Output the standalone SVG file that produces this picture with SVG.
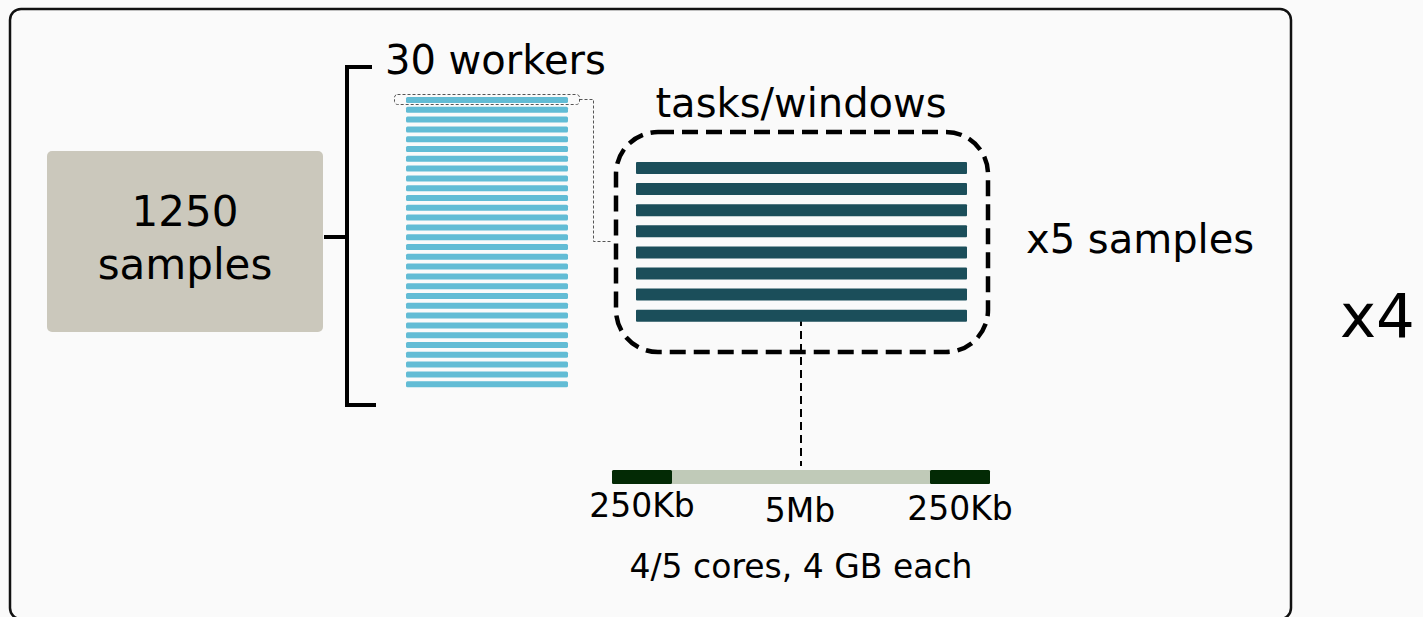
<svg xmlns="http://www.w3.org/2000/svg" width="1423" height="617" viewBox="0 0 1423 617">
<defs>
<style>
text{font-family:"DejaVu Sans","Liberation Sans",sans-serif;fill:#000}
.t40{font-size:40px}
.t33{font-size:33px}
.worker{fill:#62bcd5}
.task{fill:#1b4e5a}
.br{stroke:#000;stroke-width:4;fill:none}
.thin{stroke:#555;stroke-width:1;stroke-dasharray:3 2;fill:none}
</style>
</defs>
<rect x="0" y="0" width="1423" height="617" fill="#fafafa"/>
<g id="outer">
<rect x="10" y="9" width="1281" height="610" rx="11" fill="none" stroke="#111" stroke-width="2.5"/>
</g>
<g id="samples-node">
<rect x="47" y="151" width="276" height="181" rx="5" fill="#cbc8bc"/>
<text x="185" y="226" text-anchor="middle" style="font-size:42px">1250</text>
<text x="185" y="279" text-anchor="middle" style="font-size:42px">samples</text>
</g>
<g id="connectors">
<path class="br" d="M324 237 H347 M372 67 H347 V405 H376"/>
<rect class="thin" x="394.5" y="94.5" width="185" height="10" rx="3"/>
<path class="thin" d="M579.5 99.5 H593.5 V241.5 H612"/>
<path d="M801 318 V466" stroke="#000" stroke-width="2" stroke-dasharray="8 5" fill="none"/>
</g>
<g id="workers">
<text class="t40" x="385" y="74">30 workers</text>
<rect class="worker" x="406" y="97" width="162" height="6" rx="1.5"/>
<rect class="worker" x="406" y="106.8" width="162" height="6" rx="1.5"/>
<rect class="worker" x="406" y="116.6" width="162" height="6" rx="1.5"/>
<rect class="worker" x="406" y="126.4" width="162" height="6" rx="1.5"/>
<rect class="worker" x="406" y="136.2" width="162" height="6" rx="1.5"/>
<rect class="worker" x="406" y="146" width="162" height="6" rx="1.5"/>
<rect class="worker" x="406" y="155.8" width="162" height="6" rx="1.5"/>
<rect class="worker" x="406" y="165.6" width="162" height="6" rx="1.5"/>
<rect class="worker" x="406" y="175.4" width="162" height="6" rx="1.5"/>
<rect class="worker" x="406" y="185.2" width="162" height="6" rx="1.5"/>
<rect class="worker" x="406" y="195" width="162" height="6" rx="1.5"/>
<rect class="worker" x="406" y="204.8" width="162" height="6" rx="1.5"/>
<rect class="worker" x="406" y="214.6" width="162" height="6" rx="1.5"/>
<rect class="worker" x="406" y="224.4" width="162" height="6" rx="1.5"/>
<rect class="worker" x="406" y="234.2" width="162" height="6" rx="1.5"/>
<rect class="worker" x="406" y="244" width="162" height="6" rx="1.5"/>
<rect class="worker" x="406" y="253.8" width="162" height="6" rx="1.5"/>
<rect class="worker" x="406" y="263.6" width="162" height="6" rx="1.5"/>
<rect class="worker" x="406" y="273.4" width="162" height="6" rx="1.5"/>
<rect class="worker" x="406" y="283.2" width="162" height="6" rx="1.5"/>
<rect class="worker" x="406" y="293" width="162" height="6" rx="1.5"/>
<rect class="worker" x="406" y="302.8" width="162" height="6" rx="1.5"/>
<rect class="worker" x="406" y="312.6" width="162" height="6" rx="1.5"/>
<rect class="worker" x="406" y="322.4" width="162" height="6" rx="1.5"/>
<rect class="worker" x="406" y="332.2" width="162" height="6" rx="1.5"/>
<rect class="worker" x="406" y="342" width="162" height="6" rx="1.5"/>
<rect class="worker" x="406" y="351.8" width="162" height="6" rx="1.5"/>
<rect class="worker" x="406" y="361.6" width="162" height="6" rx="1.5"/>
<rect class="worker" x="406" y="371.4" width="162" height="6" rx="1.5"/>
<rect class="worker" x="406" y="381.2" width="162" height="6" rx="1.5"/>
</g>
<g id="tasks">
<text class="t40" x="801" y="117" text-anchor="middle">tasks/windows</text>
<rect x="616" y="132" width="372" height="220" rx="42" fill="none" stroke="#000" stroke-width="4.5" stroke-dasharray="16 8"/>
<rect class="task" x="636" y="162" width="331" height="12" rx="1"/>
<rect class="task" x="636" y="183.1" width="331" height="12" rx="1"/>
<rect class="task" x="636" y="204.2" width="331" height="12" rx="1"/>
<rect class="task" x="636" y="225.3" width="331" height="12" rx="1"/>
<rect class="task" x="636" y="246.4" width="331" height="12" rx="1"/>
<rect class="task" x="636" y="267.5" width="331" height="12" rx="1"/>
<rect class="task" x="636" y="288.6" width="331" height="12" rx="1"/>
<rect class="task" x="636" y="309.7" width="331" height="12" rx="1"/>
</g>
<g id="x5-label">
<text class="t40" x="1026" y="253">x5 samples</text>
</g>
<g id="window">
<rect x="612" y="470" width="378" height="14" rx="1.5" fill="#c0cab8"/>
<rect x="612" y="470" width="60" height="14" rx="1.5" fill="#032a05"/>
<rect x="930" y="470" width="60" height="14" rx="1.5" fill="#032a05"/>
<text class="t33" x="642" y="517" text-anchor="middle">250Kb</text>
<text class="t33" x="800" y="522" text-anchor="middle">5Mb</text>
<text class="t33" x="960" y="520" text-anchor="middle">250Kb</text>
<text class="t33" x="801" y="578" text-anchor="middle">4/5 cores, 4 GB each</text>
</g>
<g id="x4-label">
<text x="1340" y="337" style="font-size:61px">x4</text>
</g>
</svg>
